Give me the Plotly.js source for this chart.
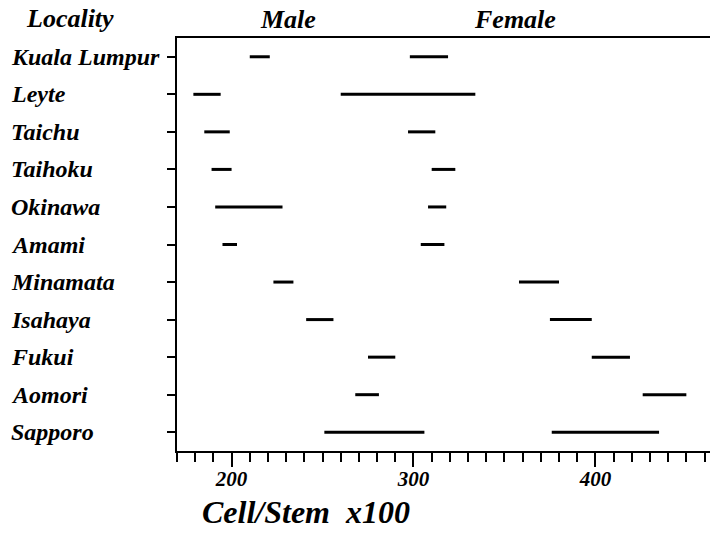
<!DOCTYPE html>
<html>
<head>
<meta charset="utf-8">
<script src="https://cdn.plot.ly/plotly-3.0.1.min.js"></script>
<style>html,body{margin:0;padding:0;background:#fff;}#chart{width:713px;height:533px;}</style>
</head>
<body>
<div id="chart"></div>
<script>
var localities = ["Kuala Lumpur","Leyte","Taichu","Taihoku","Okinawa","Amami","Minamata","Isahaya","Fukui","Aomori","Sapporo"];
var maleLow   = [210, 179, 185, 189, 191, 195, 223, 241, 275, 268, 251];
var maleHigh  = [221, 194, 199, 200, 228, 203, 234, 256, 290, 281, 306];
var femaleLow = [298, 260, 297, 310, 308, 304, 358, 375, 398, 426, 376];
var femaleHigh= [319, 334, 312, 323, 318, 317, 380, 398, 419, 450, 435];
var tickVals = [200, 300, 400];
var tickText = ["200", "300", "400"];

function segs(lo, hi) {
  var x = [], y = [];
  for (var i = 0; i < localities.length; i++) {
    x.push(lo[i], hi[i], null);
    y.push(i, i, null);
  }
  return {x: x, y: y};
}
var m = segs(maleLow, maleHigh), f = segs(femaleLow, femaleHigh);
var lineStyle = {color: "#000", width: 3};
var traces = [
  {type: "scatter", mode: "lines", name: "Male", x: m.x, y: m.y, line: lineStyle, connectgaps: false, hoverinfo: "x"},
  {type: "scatter", mode: "lines", name: "Female", x: f.x, y: f.y, line: lineStyle, connectgaps: false, hoverinfo: "x"}
];

var hand = {family: "Liberation Serif", color: "#000", style: "italic", weight: "bold"};
function font(sz) { return Object.assign({}, hand, {size: sz}); }

var annotations = localities.map(function (name, i) {
  return {xref: "paper", yref: "y", x: -0.3145, y: i, xanchor: "left", yanchor: "middle",
          text: name, showarrow: false, font: font(24)};
});
annotations.push({xref: "paper", yref: "paper", x: -0.2, y: 1.047, xanchor: "center", yanchor: "middle",
                  text: "Locality", showarrow: false, font: font(26)});
annotations.push({xref: "x", yref: "paper", x: 231, y: 1.045, xanchor: "center", yanchor: "middle",
                  text: "Male", showarrow: false, font: font(26)});
annotations.push({xref: "x", yref: "paper", x: 356, y: 1.045, xanchor: "center", yanchor: "middle",
                  text: "Female", showarrow: false, font: font(26)});
annotations.push({xref: "x", yref: "paper", x: 241, y: -0.1, xanchor: "center", yanchor: "top",
                  text: "Cell/Stem  x100", showarrow: false, font: font(32)});

var layout = {
  width: 713, height: 533,
  margin: {l: 177, r: 3, t: 38, b: 82},
  paper_bgcolor: "#fff", plot_bgcolor: "#fff",
  showlegend: false,
  xaxis: {
    range: [170, 463], showgrid: false, zeroline: false,
    showline: true, linecolor: "#000", linewidth: 2, mirror: true,
    tickmode: "array", tickvals: tickVals, ticktext: tickText,
    ticks: "outside", ticklen: 14, tickwidth: 2, tickcolor: "#000",
    ticklabelstandoff: -6,
    tickfont: font(21),
    minor: {tick0: 170, dtick: 10, ticks: "outside", ticklen: 9, tickwidth: 2, tickcolor: "#000", showgrid: false}
  },
  yaxis: {
    range: [10.5, -0.5], showgrid: false, zeroline: false,
    showline: true, linecolor: "#000", linewidth: 2,
    tickmode: "array", tickvals: localities.map(function (_, i) { return i; }),
    showticklabels: false,
    ticks: "outside", ticklen: 8, tickwidth: 2, tickcolor: "#000"
  },
  annotations: annotations
};
Plotly.newPlot("chart", traces, layout, {displayModeBar: false, staticPlot: true});
</script>
</body>
</html>
